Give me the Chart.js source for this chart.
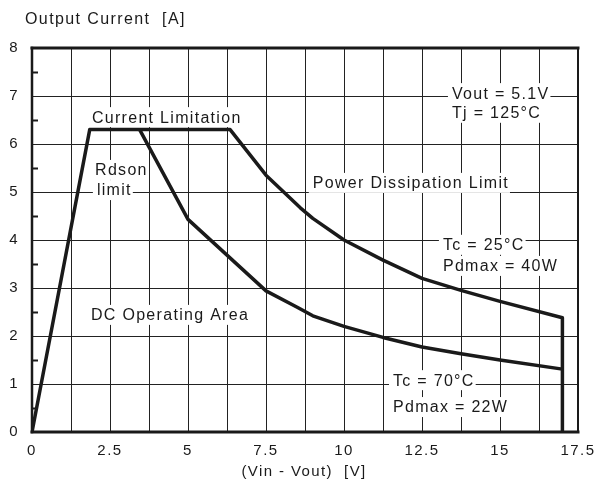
<!DOCTYPE html>
<html>
<head>
<meta charset="utf-8">
<script src="https://cdn.jsdelivr.net/npm/chart.js@4/dist/chart.umd.min.js"></script>
<style>
  html, body { margin: 0; padding: 0; background: #fff; }
  #wrap { width: 595px; height: 482px; }
</style>
</head>
<body>
<div id="wrap"><canvas id="soa"></canvas></div>
<script>
// Safe operating area
// Tc = 25°C, Pdmax = 40W (outer curve, includes the Rdson ramp and the 17V cut)
const xOuter = [0, 1.85, 6.35, 7.5, 8.6, 9, 10, 11.25, 12.5, 13.75, 15, 17, 17]
const yOuter = [0, 6.3, 6.3, 5.35, 4.67, 4.45, 4.0, 3.58, 3.2, 2.95, 2.72, 2.38, 0]
// Tc = 70°C, Pdmax = 22W
const xInner = [3.45, 5, 7.5, 8.5, 9, 10, 11.25, 12.5, 13.75, 15, 17]
const yInner = [6.3, 4.43, 2.94, 2.6, 2.42, 2.2, 1.97, 1.77, 1.63, 1.5, 1.31]

const xTicks = [0, 2.5, 5, 7.5, 10, 12.5, 15, 17.5]
const yTicks = [0, 1, 2, 3, 4, 5, 6, 7, 8]

const FONT = "'Liberation Sans', Arial, Helvetica, sans-serif"
const INK = "#1a1a1a"

// text notes placed in data units (x, y = left edge, vertical middle)
const notes = [
  { text: "Current Limitation", x: 1.92, y: 6.56 },
  { text: "Rdson", x: 2.02, y: 5.46 },
  { text: "limit", x: 2.08, y: 5.04 },
  { text: "Power Dissipation Limit", x: 9.0, y: 5.19 },
  { text: "Vout = 5.1V", x: 13.46, y: 7.06 },
  { text: "Tj = 125°C", x: 13.46, y: 6.65 },
  { text: "Tc = 25°C", x: 13.17, y: 3.9 },
  { text: "Pdmax = 40W", x: 13.17, y: 3.46 },
  { text: "DC Operating Area", x: 1.89, y: 2.44 },
  { text: "Tc = 70°C", x: 11.57, y: 1.08 },
  { text: "Pdmax = 22W", x: 11.57, y: 0.52 },
]

const toPoints = (xs, ys) => xs.map((x, i) => ({ x: x, y: ys[i] }))

function setText(ctx, size, spacing) {
  ctx.font = size + "px " + FONT
  if ("letterSpacing" in ctx) ctx.letterSpacing = spacing + "px"
}

const decor = {
  id: "decor",
  beforeDraw(chart) {
    // the tick labels in the original are spaced out a little
    if ("letterSpacing" in chart.ctx) chart.ctx.letterSpacing = "1.5px"
  },
  beforeDatasetsDraw(chart) {
    const { ctx, scales } = chart
    ctx.save()
    setText(ctx, 16, 1.3)
    ctx.fillStyle = "#fff"
    notes.forEach((n) => {
      const w = ctx.measureText(n.text).width
      const px = scales.x.getPixelForValue(n.x)
      const py = scales.y.getPixelForValue(n.y)
      ctx.fillRect(px - 4, py - 10, w + 5, 20)
    })
    ctx.restore()
  },
  afterDatasetsDraw(chart) {
    const { ctx, chartArea: a, scales } = chart
    ctx.save()
    // notes
    setText(ctx, 16, 1.3)
    ctx.fillStyle = INK
    ctx.textBaseline = "middle"
    ctx.textAlign = "left"
    notes.forEach((n) => {
      ctx.fillText(n.text, scales.x.getPixelForValue(n.x), scales.y.getPixelForValue(n.y) + 1)
    })

    // frame: heavy top/bottom/left, lighter right
    ctx.strokeStyle = INK
    ctx.lineCap = "square"
    ctx.lineWidth = 3
    ctx.beginPath()
    ctx.moveTo(a.left, a.top); ctx.lineTo(a.right, a.top)
    ctx.moveTo(a.left, a.bottom); ctx.lineTo(a.right, a.bottom)
    ctx.stroke()
    ctx.lineWidth = 2.5
    ctx.beginPath()
    ctx.moveTo(a.left, a.top); ctx.lineTo(a.left, a.bottom)
    ctx.stroke()
    ctx.lineWidth = 2
    ctx.beginPath()
    ctx.moveTo(a.right, a.top); ctx.lineTo(a.right, a.bottom)
    ctx.stroke()

    // minor ticks on the y axis at the half amps
    ctx.lineWidth = 2
    ctx.lineCap = "butt"
    for (let v = 0.5; v < 8; v += 1) {
      const py = Math.round(scales.y.getPixelForValue(v)) + 0.5
      ctx.beginPath()
      ctx.moveTo(a.left, py)
      ctx.lineTo(a.left + 6, py)
      ctx.stroke()
    }

    // axis titles
    setText(ctx, 16, 1.4)
    ctx.textAlign = "left"
    ctx.fillText("Output Current  [A]", 25, 20)
    setText(ctx, 15, 1.4)
    ctx.textAlign = "center"
    ctx.fillText("(Vin - Vout)  [V]", 304, 472)
    ctx.restore()
  },
}

new Chart(document.getElementById("soa"), {
  type: "scatter",
  data: {
    datasets: [
      {
        label: "Tc = 25°C",
        data: toPoints(xOuter, yOuter),
        showLine: true,
        borderColor: INK,
        borderWidth: 3.5,
        pointRadius: 0,
        tension: 0,
        borderJoinStyle: "round",
      },
      {
        label: "Tc = 70°C",
        data: toPoints(xInner, yInner),
        showLine: true,
        borderColor: INK,
        borderWidth: 3.5,
        pointRadius: 0,
        tension: 0,
        borderJoinStyle: "round",
      },
    ],
  },
  options: {
    responsive: true,
    maintainAspectRatio: false,
    animation: false,
    layout: { padding: { top: 48, right: 17, left: 0, bottom: 0 } },
    plugins: {
      legend: { display: false },
      tooltip: { enabled: false },
    },
    scales: {
      x: {
        type: "linear",
        min: 0,
        max: 17.5,
        afterFit: (s) => {
          s.height = 50
          s.paddingLeft = 0
          s.paddingRight = 0
        },
        afterBuildTicks: (s) => {
          // grid every 1.25 V, labels only on the 2.5 V steps
          const t = []
          for (let i = 0; i <= 14; i++) t.push({ value: i * 1.25 })
          s.ticks = t
        },
        border: { display: false },
        grid: { color: "#222", lineWidth: 1, drawTicks: false },
        ticks: {
          autoSkip: false,
          maxRotation: 0,
          padding: 10,
          color: INK,
          font: { family: FONT, size: 15 },
          callback: (v) => (xTicks.some((t) => Math.abs(t - v) < 1e-6) ? String(v) : ""),
        },
      },
      y: {
        min: 0,
        max: 8,
        afterFit: (s) => {
          s.width = 32
          s.paddingTop = 0
          s.paddingBottom = 0
        },
        afterBuildTicks: (s) => { s.ticks = yTicks.map((v) => ({ value: v })) },
        border: { display: false },
        grid: { color: "#222", lineWidth: 1, drawTicks: false },
        ticks: {
          padding: 13,
          color: INK,
          font: { family: FONT, size: 15 },
        },
      },
    },
  },
  plugins: [decor],
})
</script>
</body>
</html>
